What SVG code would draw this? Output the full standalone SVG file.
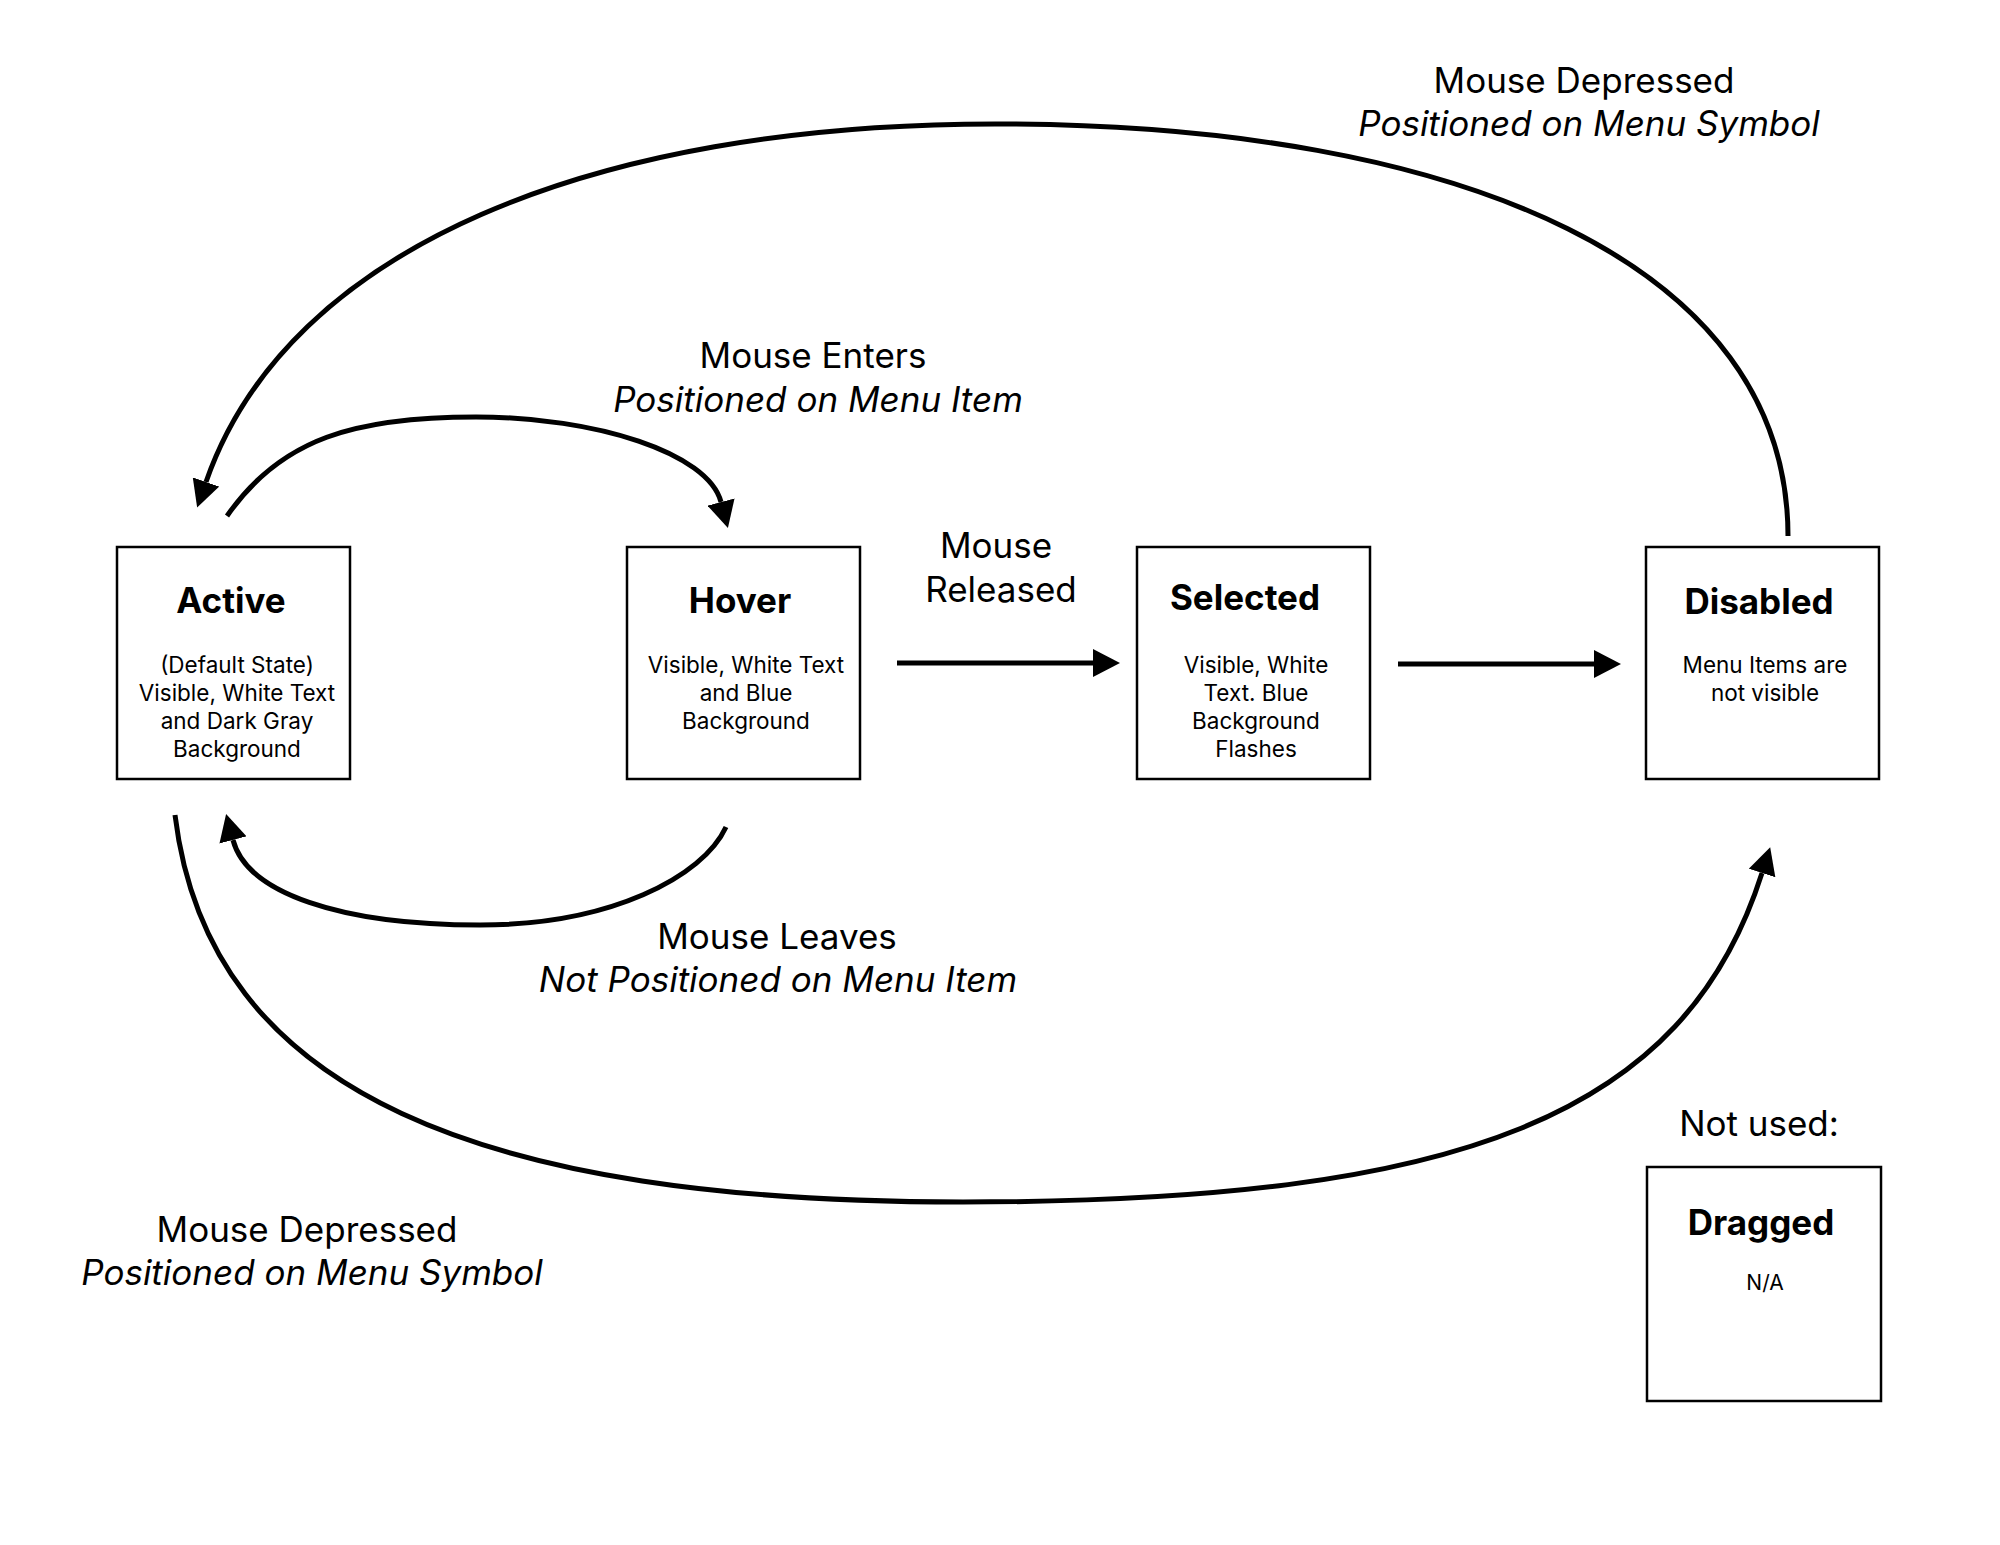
<svg xmlns="http://www.w3.org/2000/svg" width="2000" height="1545" viewBox="0 0 2000 1545">
<style>
.box{fill:#fff;stroke:#000;stroke-width:2.5}
.t{font-family:Inter,"Liberation Sans",sans-serif;fill:#000;text-anchor:middle}
.title{font-size:35px;font-weight:700}
.body{font-size:22.5px}
.lbl{font-size:35px}
.it{font-style:italic}
.c{fill:none;stroke:#000;stroke-width:5}
</style>
<defs>
<marker id="ah" markerUnits="userSpaceOnUse" markerWidth="27" markerHeight="28" refX="0" refY="14" orient="auto" viewBox="0 0 27 28">
<path d="M0,0 L27,14 L0,28 z" fill="#000"/>
</marker>
</defs>
<rect width="2000" height="1545" fill="#fff"/>
<g id="connectors">
<path class="c" marker-end="url(#ah)" d="M897,663 L1093,663"/>
<path class="c" marker-end="url(#ah)" d="M1398,664 L1594,664"/>
<path class="c" marker-end="url(#ah)" d="M1788,536 C1788,266 1465,124 995,124 C595,124 288,246 206,482"/>
<path class="c" marker-end="url(#ah)" d="M227,516 C281,438 356,417 476,417 C596,417 708,453 721,502"/>
<path class="c" marker-end="url(#ah)" d="M726,827 C703,877 610,925 480,925 C340,925 247,893 233,840"/>
<path class="c" marker-end="url(#ah)" d="M175,815 C209,1095 483,1202 963,1202 C1463,1202 1685,1115 1762,873"/>
</g>
<g id="active">
<rect class="box" x="117" y="547" width="233" height="232"/>
<text class="t title" x="231" y="613">Active</text>
<text class="t body" x="237" y="673">(Default State)</text>
<text class="t body" x="237" y="701">Visible, White Text</text>
<text class="t body" x="237" y="729">and Dark Gray</text>
<text class="t body" x="237" y="757">Background</text>
</g>
<g id="hover">
<rect class="box" x="627" y="547" width="233" height="232"/>
<text class="t title" x="740" y="613">Hover</text>
<text class="t body" x="746" y="673">Visible, White Text</text>
<text class="t body" x="746" y="701">and Blue</text>
<text class="t body" x="746" y="729">Background</text>
</g>
<g id="selected">
<rect class="box" x="1137" y="547" width="233" height="232"/>
<text class="t title" x="1245" y="610">Selected</text>
<text class="t body" x="1256" y="673">Visible, White</text>
<text class="t body" x="1256" y="701">Text. Blue</text>
<text class="t body" x="1256" y="729">Background</text>
<text class="t body" x="1256" y="757">Flashes</text>
</g>
<g id="disabled">
<rect class="box" x="1646" y="547" width="233" height="232"/>
<text class="t title" x="1759" y="614">Disabled</text>
<text class="t body" x="1765" y="673">Menu Items are</text>
<text class="t body" x="1765" y="701">not visible</text>
</g>
<g id="dragged">
<text class="t" x="1759" y="1136" style="font-size:35px">Not used:</text>
<rect class="box" x="1647" y="1167" width="234" height="234"/>
<text class="t title" x="1761" y="1235">Dragged</text>
<text class="t" x="1765" y="1290" style="font-size:21px">N/A</text>
</g>
<g id="labels">
<text class="t lbl" x="1584" y="93">Mouse Depressed</text>
<text class="t lbl it" x="1589" y="136">Positioned on Menu Symbol</text>
<text class="t lbl" x="813" y="368">Mouse Enters</text>
<text class="t lbl it" x="818" y="412">Positioned on Menu Item</text>
<text class="t lbl" x="996" y="558">Mouse</text>
<text class="t lbl" x="1001" y="602">Released</text>
<text class="t lbl" x="777" y="949">Mouse Leaves</text>
<text class="t lbl it" x="778" y="992">Not Positioned on Menu Item</text>
<text class="t lbl" x="307" y="1242">Mouse Depressed</text>
<text class="t lbl it" x="312" y="1285">Positioned on Menu Symbol</text>
</g>
</svg>
